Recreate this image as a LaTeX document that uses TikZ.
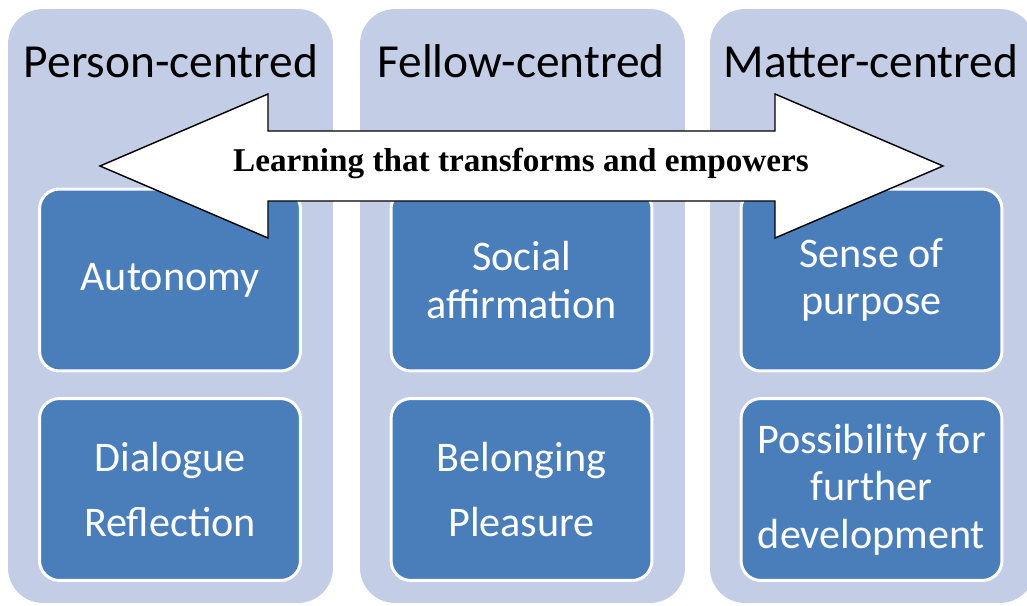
\documentclass[tikz,border=0pt]{standalone}
\usepackage{fontspec}
\setmainfont{Carlito}
\newfontfamily\arrowfont{Liberation Serif}
\definecolor{colfill}{HTML}{C3CDE5}
\definecolor{boxfill}{HTML}{4A7EBB}
\tikzset{
  column/.style={fill=colfill, rounded corners=0.7cm, minimum width=6.5cm, minimum height=11.88cm, inner sep=0pt},
  heading/.style={anchor=base, font=\fontsize{27}{30}\selectfont},
  inbox/.style={draw=white, line width=0.06cm, fill=boxfill, rounded corners=0.4cm,
    minimum width=5.22cm, minimum height=3.64cm, text=white, align=center,
    font=\fontsize{24}{27}\selectfont},
  bigarrow/.style={draw=black, line width=0.8pt, fill=white, line join=miter}
}
\begin{document}
\begin{tikzpicture}[x=0.02cm,y=-0.02cm]
  \useasboundingbox (0,0) rectangle (1027,605);
  \clip (0,0) rectangle (1027,605);
  \fill[white] (0,0) rectangle (1027,605);

  % columns
  \node[column] (colP) at (170.5,306) {};
  \node[column] (colF) at (522.5,306) {};
  \node[column] (colM) at (872.5,306) {};

  % headings
  \node[heading] (hP) at (171,77) {Person-centred};
  \node[heading] (hF) at (521,77) {Fellow-centred};
  \node[heading] (hM) at (871,77) {Matter-centred};

  % inner boxes
  \node[inbox] (auto) at (170,280) {Autonomy};
  \node[inbox] (social) at (521.5,280) {Social\\affirmation};
  \node[inbox] (sense) at (871.5,280) {Sense of\\purpose};
  \node[inbox] (dial) at (170,489.5) {Dialogue\\[10pt]Reflection};
  \node[inbox] (belong) at (521.5,489.5) {Belonging\\[10pt]Pleasure};
  \node[inbox] (poss) at (871.5,489.5) {Possibility for\\further\\development};

  % double arrow
  \draw[bigarrow] (100,166) -- (268,94) -- (268,131) -- (775,131) -- (775,94)
    -- (943,166) -- (775,238) -- (775,201) -- (268,201) -- (268,238) -- cycle;
  \node[font=\arrowfont\bfseries\fontsize{18.9}{21}\selectfont] (learn) at (521,163)
    {Learning that transforms and empowers};
\end{tikzpicture}
\end{document}
